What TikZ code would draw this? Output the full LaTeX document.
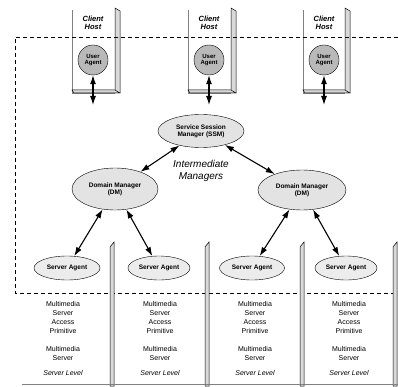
\documentclass[tikz,border=0pt]{standalone}
\usepackage{fontspec}
\setmainfont{Liberation Sans}
\usetikzlibrary{arrows.meta,positioning}
\usetikzlibrary{shapes.geometric}
\tikzset{
    x=1pt, y=-1pt, % pixel-like grid, y goes down
    manager/.style={ellipse, draw, fill=gray!22, inner sep=0pt, align=center, font=\fontsize{6.5}{7}\selectfont\bfseries}, % gray ellipses
    useragent/.style={circle, draw, fill=gray!55, minimum size=30pt, inner sep=0pt, align=center, font=\fontsize{6}{6.5}\selectfont\bfseries},
    hostlabel/.style={align=center, font=\fontsize{7.5}{8.5}\selectfont\itshape\bfseries},
    srvtext/.style={align=center, font=\fontsize{7}{9}\selectfont},
    biarrow/.style={{Latex[length=9pt,width=6pt]}-{Latex[length=9pt,width=6pt]}, line width=1.1pt},
    boundary/.style={line width=0.6pt, dash pattern=on 4pt off 3pt},
    slab/.style={draw, fill=gray!30, line width=0.5pt},
}

\begin{document}
\begin{tikzpicture}
    \useasboundingbox (0,0) rectangle (398,387);
    % client hosts
    \foreach \l/\r in {72/115, 188/231, 303/345} {
      \draw[line width=0.4pt, gray] (\l,10) -- (\l,93) -- (\r,93);
      \draw[slab] (\r,8) -- (\r+5,11) -- (\r+5,93) -- (\r,93) -- cycle;
      \draw[slab] (\l,90) -- (\r,90) -- (\r+5,93) -- (\l+2,93) -- cycle;
    }
    \node (q_hostA) [hostlabel] at (93,23) {Client\\Host};
    \node (q_hostB) [hostlabel] at (209,23) {Client\\Host};
    \node (q_hostC) [hostlabel] at (324,23) {Client\\Host};
    \node (q_userA) [useragent] at (93,60) {User\\Agent};
    \node (q_userB) [useragent] at (209,60) {User\\Agent};
    \node (q_userC) [useragent] at (324,60) {User\\Agent};
    \coordinate (q_outA) at (93,105);
    \coordinate (q_outB) at (209,105);
    \coordinate (q_outC) at (324,105);

    % domain boundary
    \draw[boundary] (398,37) -- (15,37) -- (15,293) -- (398,293);

    % managers
    \node (q_ssm) [manager, minimum width=86pt, minimum height=33pt] at (201,131) {Service Session\\Manager (SSM)};
    \node (q_inter) [font=\fontsize{10}{12}\selectfont\itshape, align=center] at (201,171) {Intermediate\\Managers};
    \node (q_dmleft) [manager, minimum width=86pt, minimum height=42pt] at (115,189) {Domain Manager\\(DM)};
    \node (q_dmright) [manager, minimum width=88pt, minimum height=40pt] at (302,190) {Domain Manager\\(DM)};

    % server hosts
    \foreach \x in {110, 205, 300, 393} {
      \draw[slab] (\x,247) -- (\x+4,242) -- (\x+4,386) -- (\x,386) -- cycle;
    }
    \draw[line width=0.4pt, gray] (22,384) -- (398,384);
    \node (q_saA) [manager, fill=gray!15, minimum width=66pt, minimum height=24pt] at (67,268) {Server Agent};
    \node (q_saB) [manager, fill=gray!15, minimum width=62pt, minimum height=24pt] at (159,268) {Server Agent};
    \node (q_saC) [manager, fill=gray!15, minimum width=65pt, minimum height=24pt] at (252,268) {Server Agent};
    \node (q_saD) [manager, fill=gray!15, minimum width=62pt, minimum height=24pt] at (346,268) {Server Agent};
    \foreach \c/\n in {63/A, 160/B, 255/C, 349/D} {
      \node (q_msap\n) [srvtext] at (\c,317) {Multimedia\\Server\\Access\\Primitive};
      \node (q_ms\n) [srvtext] at (\c,353) {Multimedia\\Server};
      \node (q_lvl\n) [srvtext, font=\fontsize{7}{9}\selectfont\itshape] at (\c,373) {Server Level};
    }

    \path[biarrow]
      (q_userA)   edge  (q_outA)
      (q_userB)   edge  (q_outB)
      (q_userC)   edge  (q_outC)
      (q_ssm)     edge  (q_dmleft)
      (q_ssm)     edge  (q_dmright)
      (q_dmleft)  edge  (q_saA)
      (q_dmleft)  edge  (q_saB)
      (q_dmright) edge  (q_saC)
      (q_dmright) edge  (q_saD)
      ;
\end{tikzpicture}
\end{document}
